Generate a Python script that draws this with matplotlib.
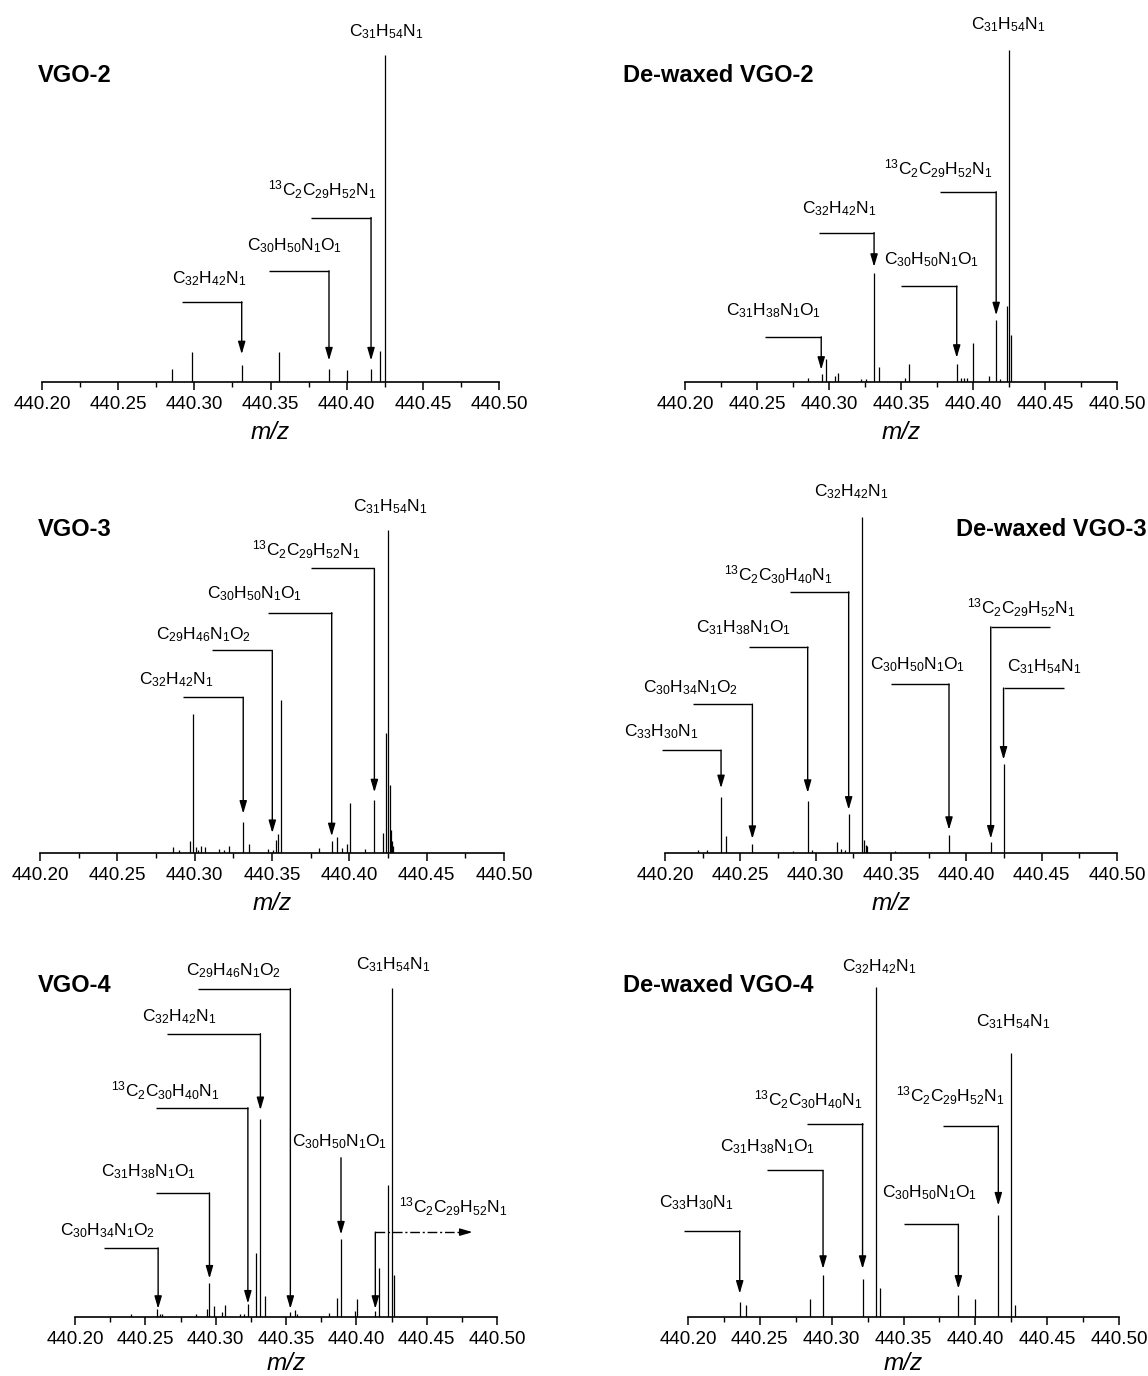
import matplotlib
matplotlib.use('Agg')
import matplotlib.pyplot as plt
from matplotlib.ticker import MultipleLocator, FormatStrFormatter

plt.rcParams['font.family'] = ['Liberation Sans', 'DejaVu Sans']
plt.rcParams['mathtext.fontset'] = 'custom'
plt.rcParams['mathtext.rm'] = 'Liberation Sans'
plt.rcParams['mathtext.it'] = 'Liberation Sans:italic'
plt.rcParams['mathtext.bf'] = 'Liberation Sans:bold'

# ---------------- data ----------------
titles = ['VGO-2', 'De-waxed VGO-2', 'VGO-3', 'De-waxed VGO-3', 'VGO-4', 'De-waxed VGO-4']
x_ticks = [440.20, 440.25, 440.30, 440.35, 440.40, 440.45, 440.50]
x_label = 'm/z'

formulas = {
    'C31H54N1': r'$\mathregular{C_{31}H_{54}N_{1}}$',
    'C32H42N1': r'$\mathregular{C_{32}H_{42}N_{1}}$',
    'C30H50N1O1': r'$\mathregular{C_{30}H_{50}N_{1}O_{1}}$',
    '13C2C29H52N1': r'$\mathregular{{}^{13}C_{2}C_{29}H_{52}N_{1}}$',
    '13C2C30H40N1': r'$\mathregular{{}^{13}C_{2}C_{30}H_{40}N_{1}}$',
    'C31H38N1O1': r'$\mathregular{C_{31}H_{38}N_{1}O_{1}}$',
    'C29H46N1O2': r'$\mathregular{C_{29}H_{46}N_{1}O_{2}}$',
    'C30H34N1O2': r'$\mathregular{C_{30}H_{34}N_{1}O_{2}}$',
    'C33H30N1': r'$\mathregular{C_{33}H_{30}N_{1}}$',
}

# VGO-2
p1_mz = [440.2856, 440.2986, 440.3311, 440.3559, 440.3886, 440.4002, 440.4160, 440.4218, 440.4249]
p1_int = [4.1, 9.2, 5.1, 9.2, 3.9, 3.8, 4.1, 9.4, 100]

# De-waxed VGO-2
p2_mz = [440.2851, 440.2950, 440.2980, 440.3039, 440.3064, 440.3222, 440.3257, 440.3313, 440.3346,
         440.3527, 440.3555, 440.3888, 440.3920, 440.3940, 440.3958, 440.4000, 440.4110, 440.4161,
         440.4190, 440.4235, 440.4251, 440.4264]
p2_int = [1.2, 2.5, 7.0, 1.8, 2.7, 0.8, 1.0, 32.9, 4.5,
          1.2, 5.5, 5.5, 1.3, 1.2, 1.1, 11.8, 1.7, 18.6,
          1.0, 22.8, 100, 14.3]

# VGO-3
p3_mz = [440.2859, 440.2897, 440.2968, 440.2987, 440.3006, 440.3022, 440.3041, 440.3069, 440.3160,
         440.3192, 440.3221, 440.3315, 440.3351, 440.3474, 440.3507, 440.3526, 440.3542, 440.3557,
         440.3807, 440.3886, 440.3923, 440.3950, 440.3985, 440.4004, 440.4099, 440.4162, 440.4217,
         440.4236, 440.4248, 440.4260, 440.4267, 440.4274, 440.4281]
p3_int = [1.9, 1.0, 3.8, 43.1, 1.9, 0.8, 2.1, 1.8, 1.2,
          1.0, 2.3, 9.5, 2.9, 1.2, 1.0, 4.1, 6.0, 47.4,
          1.4, 3.6, 4.8, 1.5, 2.8, 15.5, 1.2, 16.5, 6.2,
          37.3, 100, 21.1, 7.2, 3.6, 2.1]

# De-waxed VGO-3
p4_mz = [440.2219, 440.2280, 440.2372, 440.2403, 440.2580, 440.2848, 440.2947, 440.2974, 440.3139,
         440.3166, 440.3195, 440.3219, 440.3310, 440.3324, 440.3334, 440.3341, 440.3525, 440.3885,
         440.4162, 440.4247]
p4_int = [1.0, 0.8, 16.7, 5.2, 2.8, 0.7, 15.4, 0.8, 3.2,
          1.2, 1.0, 11.6, 100, 4.0, 2.5, 2.2, 0.7, 5.3,
          3.2, 26.6]

# VGO-4
p5_mz = [440.2398, 440.2586, 440.2604, 440.2620, 440.2857, 440.2938, 440.2956, 440.2990, 440.3044,
         440.3068, 440.3172, 440.3198, 440.3229, 440.3289, 440.3318, 440.3349, 440.3531, 440.3562,
         440.3580, 440.3805, 440.3862, 440.3891, 440.3992, 440.4005, 440.4135, 440.4164, 440.4227,
         440.4253, 440.4266]
p5_int = [0.8, 2.5, 1.0, 1.0, 1.0, 2.5, 10.3, 3.3, 1.5,
          3.5, 1.0, 1.0, 3.9, 19.6, 60.1, 6.4, 1.5, 2.0,
          1.0, 1.3, 5.8, 23.6, 1.7, 5.4, 1.8, 15.0, 40.0,
          100, 12.9]

# De-waxed VGO-4
p6_mz = [440.2365, 440.2403, 440.2850, 440.2942, 440.3218, 440.3310, 440.3338, 440.3882, 440.3997,
         440.4157, 440.4247, 440.4275]
p6_int = [4.5, 3.5, 5.4, 12.8, 11.4, 100, 8.8, 6.6, 5.4,
          30.8, 80.1, 3.5]

# annotations: (formula, label_x, label_y, line_start_x, peak_x, line_y, arrow_tip_y)
p1_notes = [('C32H42N1', 440.3095, 31.6, 440.2919, 440.3311, 24.5, 8.5),
            ('C30H50N1O1', 440.3660, 41.8, 440.3492, 440.3884, 34.0, 6.6),
            ('13C2C29H52N1', 440.3840, 58.7, 440.3768, 440.4160, 50.3, 6.6),
            ('C31H54N1', 440.4262, 107.1, None, None, None, None)]
p2_notes = [('C31H38N1O1', 440.2617, 21.6, 440.2559, 440.2946, 13.6, 3.7),
            ('C32H42N1', 440.3067, 52.3, 440.2930, 440.3313, 45.0, 34.7),
            ('C30H50N1O1', 440.3710, 36.9, 440.3501, 440.3887, 28.9, 7.3),
            ('13C2C29H52N1', 440.3760, 64.3, 440.3772, 440.4161, 57.3, 20.1),
            ('C31H54N1', 440.4243, 107.5, None, None, None, None)]
p3_notes = [('C32H42N1', 440.2880, 53.6, 440.2923, 440.3314, 48.2, 12.2),
            ('C29H46N1O2', 440.3057, 67.5, 440.3112, 440.3502, 62.7, 6.2),
            ('C30H50N1O1', 440.3389, 80.4, 440.3472, 440.3886, 74.4, 5.2),
            ('13C2C29H52N1', 440.3720, 94.0, 440.3755, 440.4162, 88.1, 18.8),
            ('C31H54N1', 440.4264, 107.2, None, None, None, None)]
p4_notes = [('C33H30N1', 440.1976, 36.2, 440.1981, 440.2372, 30.6, 19.3),
            ('C30H34N1O2', 440.2170, 49.1, 440.2187, 440.2580, 44.3, 4.2),
            ('C31H38N1O1', 440.2520, 67.0, 440.2559, 440.2947, 61.3, 17.9),
            ('13C2C30H40N1', 440.2753, 82.8, 440.2831, 440.3219, 77.7, 12.9),
            ('C32H42N1', 440.3236, 107.6, None, None, None, None),
            ('C30H50N1O1', 440.3676, 56.1, 440.3499, 440.3885, 50.3, 6.9),
            ('13C2C29H52N1', 440.4361, 72.9, 440.4555, 440.4162, 67.3, 4.3),
            ('C31H54N1', 440.4519, 55.4, 440.4648, 440.4247, 49.1, 27.8)]
p5_notes = [('C30H34N1O2', 440.2234, 26.3, 440.2208, 440.2591, 21.0, 2.5),
            ('C31H38N1O1', 440.2521, 44.1, 440.2573, 440.2956, 37.7, 11.7),
            ('13C2C30H40N1', 440.2643, 68.9, 440.2573, 440.3229, 63.6, 4.1),
            ('C32H42N1', 440.2742, 91.2, 440.2651, 440.3318, 86.1, 62.9),
            ('C29H46N1O2', 440.3128, 105.4, 440.2872, 440.3531, 99.8, 2.5),
            ('C30H50N1O1', 440.3883, 53.2, 440.3891, 440.3891, 48.4, 25.1),
            ('C31H54N1', 440.4258, 107.2, None, None, None, None)]
p5_dashed = ('13C2C29H52N1', 440.4690, 33.4, 440.4135, 440.4826, 25.8, 2.5)
p6_notes = [('C33H30N1', 440.2059, 34.5, 440.1969, 440.2360, 26.1, 7.1),
            ('C31H38N1O1', 440.2557, 51.5, 440.2549, 440.2940, 44.4, 14.6),
            ('13C2C30H40N1', 440.2837, 65.7, 440.2827, 440.3215, 58.6, 14.6),
            ('C32H42N1', 440.3328, 106.1, None, None, None, None),
            ('C30H50N1O1', 440.3680, 37.6, 440.3501, 440.3882, 28.1, 8.6),
            ('13C2C29H52N1', 440.3828, 67.2, 440.3774, 440.4160, 57.9, 33.8),
            ('C31H54N1', 440.4260, 89.4, None, None, None, None)]

# ---------------- layout (pixels) ----------------
W, H = 1148, 1376
layouts = [  # x_left, x_right, baseline_y, px per 100 %, top_y
    (42, 499, 382, 327, 8),
    (685, 1117, 382, 332, 8),
    (40, 504, 853, 323, 470),
    (665, 1117, 853, 336, 470),
    (75, 497, 1317, 329, 935),
    (688, 1119, 1317, 330, 935),
]
label_pads = [6, 6, 6, 6, 3, 3]
title_pos = [(38, 75, 'left'), (623, 75, 'left'), (38, 530, 'left'),
             (1147, 530, 'right'), (38, 985, 'left'), (623, 985, 'left')]

panels = [(p1_mz, p1_int, p1_notes), (p2_mz, p2_int, p2_notes), (p3_mz, p3_int, p3_notes),
          (p4_mz, p4_int, p4_notes), (p5_mz, p5_int, p5_notes), (p6_mz, p6_int, p6_notes)]

fig = plt.figure(figsize=(W / 100, H / 100), dpi=100)

LW_PEAK = 0.9
LW_NOTE = 1.0
FS_LABEL = 12.5

def arrow(ax, x, y0, y1):
    ax.annotate('', xy=(x, y1), xytext=(x, y0),
                arrowprops=dict(arrowstyle='-|>,head_length=0.75,head_width=0.22',
                                lw=LW_NOTE, color='k', shrinkA=0, shrinkB=0),
                annotation_clip=False)

for i, ((mz, inten, notes), (xl, xr, yb, hp, yt)) in enumerate(zip(panels, layouts)):
    ax = fig.add_axes([xl / W, (H - yb) / H, (xr - xl) / W, (yb - yt) / H])
    ax.vlines(mz, 0, inten, colors='k', lw=LW_PEAK)
    ax.set_xlim(x_ticks[0], x_ticks[-1])
    ax.set_ylim(0, (yb - yt) / hp * 100)
    for s in ['left', 'right', 'top']:
        ax.spines[s].set_visible(False)
    ax.spines['bottom'].set_linewidth(1.2)
    ax.set_yticks([])
    ax.set_xticks(x_ticks)
    ax.xaxis.set_major_formatter(FormatStrFormatter('%.2f'))
    ax.xaxis.set_minor_locator(MultipleLocator(0.025))
    ax.tick_params(axis='x', which='major', direction='out', length=6, width=1.1,
                   labelsize=13.5, pad=4)
    ax.tick_params(axis='x', which='minor', direction='out', length=3.5, width=1.0)
    ax.set_xlabel(x_label, fontsize=17.5, style='italic', labelpad=label_pads[i])
    ax.patch.set_alpha(0)

    for (f, lx, ly, x0, xp, yh, ytip) in notes:
        ax.text(lx, ly, formulas[f], ha='center', va='center', fontsize=FS_LABEL, clip_on=False)
        if xp is None:
            continue
        if x0 != xp:
            ax.plot([x0, xp], [yh, yh], color='k', lw=LW_NOTE, clip_on=False,
                    solid_capstyle='butt')
        arrow(ax, xp, yh, ytip)

    if i == 4:
        f, lx, ly, x0, x1, yh, ytip = p5_dashed
        ax.text(lx, ly, formulas[f], ha='center', va='center', fontsize=FS_LABEL, clip_on=False)
        ax.plot([x0, x1 - 0.003], [yh, yh], color='k', lw=LW_NOTE,
                ls=(0, (7, 2, 1.5, 2)), clip_on=False)
        ax.annotate('', xy=(x1, yh), xytext=(x1 - 0.004, yh),
                    arrowprops=dict(arrowstyle='-|>,head_length=0.75,head_width=0.22',
                                    lw=LW_NOTE, color='k', shrinkA=0, shrinkB=0),
                    annotation_clip=False)
        arrow(ax, x0, yh, ytip)

    tx, ty, ha = title_pos[i]
    fig.text(tx / W, 1 - ty / H, titles[i], ha=ha, va='center', fontsize=17,
             fontweight='bold')

fig.savefig('out.png', dpi=100)
